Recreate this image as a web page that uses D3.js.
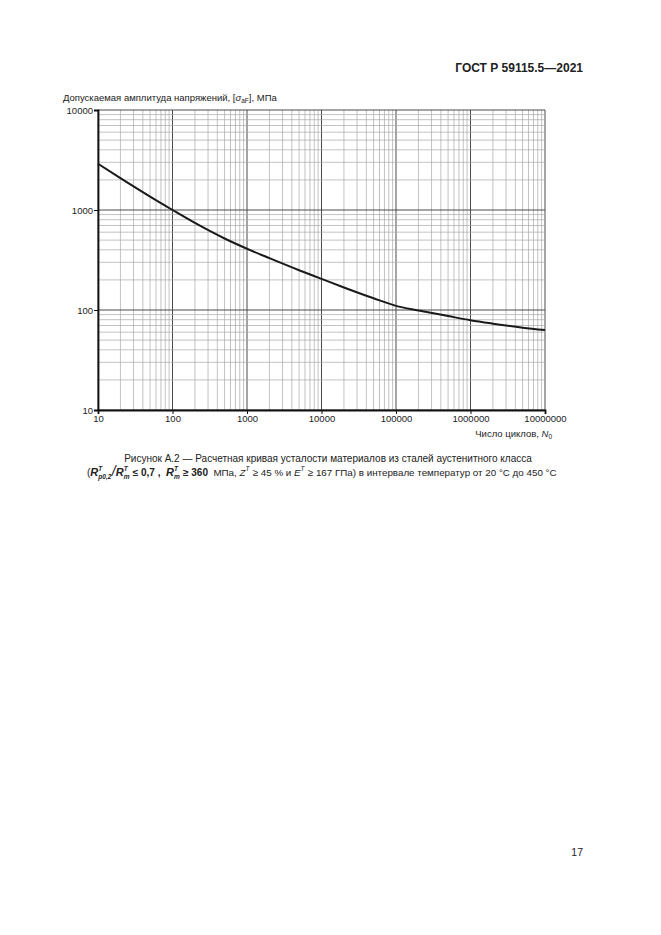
<!DOCTYPE html>
<html>
<head>
    <meta charset="utf-8">
    <title>ГОСТ Р 59115.5—2021, рисунок А.2</title>
    <script src="https://d3js.org/d3.v7.min.js"></script>
    <style>
        body { margin: 0; background: #fff; }
        text { font-family: "Liberation Sans", Arial, sans-serif; fill: #222; }
    </style>
</head>
<body>
<script>
    // data (cycles N0, allowable stress amplitude in MPa)
    var cycles = [10, 20, 50, 100, 200, 500, 1000, 2000, 5000, 10000, 20000, 50000,
                  100000, 200000, 500000, 1000000, 2000000, 5000000, 10000000];
    var stress = [2900, 2080, 1360, 1000, 742, 519, 410, 330, 250, 205, 168, 131,
                  110, 99, 87, 79, 73, 66.5, 63];
    var xTicks = [10, 100, 1000, 10000, 100000, 1000000, 10000000];
    var yTicks = [10, 100, 1000, 10000];

    var W = 661, H = 935;
    var pL = 98, pR = 545, pT = 110, pB = 410; // plot box

    var svg = d3.select("body").append("svg")
        .attr("width", W)
        .attr("height", H);
    svg.append("rect").attr("width", W).attr("height", H).attr("fill", "#fff");

    var x = d3.scaleLog().domain([10, 1e7]).range([pL, pR]);
    var y = d3.scaleLog().domain([10, 1e4]).range([pB, pT]);

    // grid: all 1..9 x 10^n lines, decades darker
    function logLines(lo, hi) {
        var out = [];
        for (var p = lo; p < hi; p *= 10) {
            for (var k = 1; k < 10; k++) out.push({ v: k * p, major: k == 1 });
        }
        out.push({ v: hi, major: true });
        return out;
    }
    var grid = svg.append("g");
    grid.selectAll("line.v")
        .data(logLines(10, 1e7))
        .enter().append("line")
        .attr("class", "v")
        .attr("x1", function (d) { return x(d.v); })
        .attr("x2", function (d) { return x(d.v); })
        .attr("y1", pT).attr("y2", pB)
        .attr("stroke", function (d) { return d.major ? "#4a4a4a" : "#a8a8a8"; })
        .attr("stroke-width", function (d) { return d.major ? 1 : 0.7; });
    grid.selectAll("line.h")
        .data(logLines(10, 1e4))
        .enter().append("line")
        .attr("class", "h")
        .attr("y1", function (d) { return y(d.v); })
        .attr("y2", function (d) { return y(d.v); })
        .attr("x1", pL).attr("x2", pR)
        .attr("stroke", function (d) { return d.major ? "#4a4a4a" : "#a8a8a8"; })
        .attr("stroke-width", function (d) { return d.major ? 1 : 0.7; });

    // axes
    var xAxis = d3.axisBottom(x).tickValues(xTicks).tickFormat(d3.format("d")).tickSize(4);
    var yAxis = d3.axisLeft(y).tickValues(yTicks).tickFormat(d3.format("d")).tickSize(4);
    var gx = svg.append("g").attr("transform", "translate(0," + pB + ")").call(xAxis);
    var gy = svg.append("g").attr("transform", "translate(" + pL + ",0)").call(yAxis);
    [gx, gy].forEach(function (g) {
        g.select(".domain").attr("stroke", "#111").attr("stroke-width", 1.8);
        g.selectAll(".tick line").attr("stroke", "#111").attr("stroke-width", 1);
        g.selectAll(".tick text")
            .attr("font-family", "Liberation Sans, Arial, sans-serif")
            .attr("font-size", 9.5).attr("fill", "#222");
    });
    gx.selectAll(".tick text").attr("y", 5).attr("dy", "0.75em");
    gy.selectAll(".tick text").attr("x", -5);

    // curve
    var pts = cycles.map(function (c, i) { return [c, stress[i]]; });
    var line = d3.line()
        .x(function (d) { return x(d[0]); })
        .y(function (d) { return y(d[1]); })
        .curve(d3.curveMonotoneX);
    svg.append("path")
        .datum(pts)
        .attr("d", line)
        .attr("fill", "none")
        .attr("stroke", "#1a1a1a")
        .attr("stroke-width", 2);

    // header and page number
    svg.append("text").attr("x", 583).attr("y", 72).attr("text-anchor", "end")
        .attr("font-size", 12).attr("font-weight", "bold").text("ГОСТ Р 59115.5—2021");
    svg.append("text").attr("x", 583).attr("y", 856).attr("text-anchor", "end")
        .attr("font-size", 10.5).text("17");

    // axis titles
    var yt = svg.append("text").attr("x", 63).attr("y", 101).attr("font-size", 9.5);
    yt.append("tspan").text("Допускаемая амплитуда напряжений, [");
    yt.append("tspan").attr("font-style", "italic").text("σ");
    yt.append("tspan").attr("font-size", 6.5).attr("dy", 2).text("aF");
    yt.append("tspan").attr("dy", -2).text("], МПа");

    var xt = svg.append("text").attr("x", 552).attr("y", 437)
        .attr("text-anchor", "end").attr("font-size", 9.5);
    xt.append("tspan").text("Число циклов, ");
    xt.append("tspan").attr("font-style", "italic").text("N");
    xt.append("tspan").attr("font-size", 6.5).attr("dy", 2).text("0");

    // caption
    svg.append("text").attr("x", 328).attr("y", 462).attr("text-anchor", "middle")
        .attr("font-size", 10)
        .text("Рисунок А.2 — Расчетная кривая усталости материалов из сталей аустенитного класса");

    var cap = svg.append("g");
    var cx = 87, cy = 476;
    function piece(str, size, weight, style, dy) {
        var t = cap.append("text").attr("x", cx).attr("y", cy + (dy || 0))
            .attr("font-size", size)
            .attr("font-weight", weight || "normal")
            .attr("font-style", style || "normal")
            .attr("xml:space", "preserve")
            .text(str);
        return t.node().getComputedTextLength();
    }
    function run(str, size, weight, style) { cx += piece(str, size, weight, style); }
    function supsub(sup, sub, bold) {
        var w1 = piece(sup, 6.5, bold ? "bold" : "normal", "italic", -5);
        var w2 = sub ? piece(sub, 6.5, bold ? "bold" : "normal", "italic", 2.5) : 0;
        cx += Math.max(w1, w2) + 0.5;
    }
    run("(", 10);
    run("R", 11, "bold", "italic"); supsub("T", "p0,2", true);
    run("/", 14, "normal", "italic");
    run("R", 11, "bold", "italic"); supsub("T", "m", true);
    run(" ≤ 0,7 ,  ", 10, "bold");
    run("R", 11, "bold", "italic"); supsub("T", "m", true);
    run(" ≥ 360", 10, "bold");
    run("  МПа, ", 9.8);
    run("Z", 9.8, "normal", "italic"); supsub("T", null, false);
    run(" ≥ 45 % и ", 9.8);
    run("E", 9.8, "normal", "italic"); supsub("T", null, false);
    run(" ≥ 167 ГПа) в интервале температур от 20 °C до 450 °C", 9.8);
</script>
</body>
</html>
